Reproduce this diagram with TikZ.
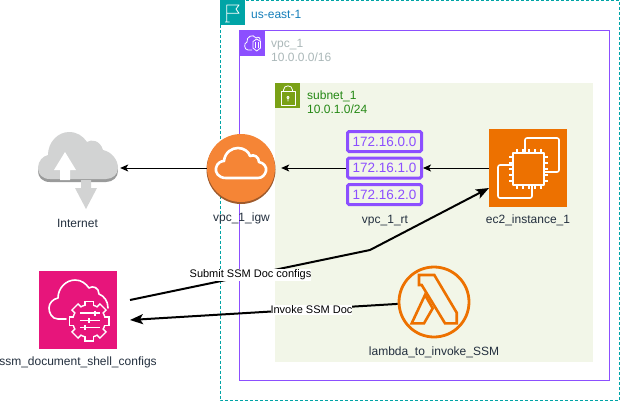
\documentclass[tikz,border=0pt]{standalone}
\usepackage{fontspec}
\setmainfont{Liberation Sans}
\usetikzlibrary{arrows.meta}
\definecolor{regionc}{HTML}{00A4A6}
\definecolor{vpcc}{HTML}{8C4FFF}
\definecolor{subnetbg}{HTML}{F2F6E8}
\definecolor{subnetc}{HTML}{7AA116}
\definecolor{subnettxt}{HTML}{248814}
\definecolor{vpctxt}{HTML}{AAB7B8}
\definecolor{regiontxt}{HTML}{147EBA}
\definecolor{ec2c}{HTML}{ED7100}
\definecolor{ssmc}{HTML}{E7157B}
\definecolor{igwc}{HTML}{F58536}
\definecolor{igwdark}{HTML}{9E5A2C}
\definecolor{cloudc}{HTML}{D2D3D3}
\definecolor{clouddark}{HTML}{9A9B9B}
\definecolor{labelc}{HTML}{232F3E}
\begin{document}
\begin{tikzpicture}
    [%%%%%%%%%%%%%%%%%%%%%%%%%%%%%%
        x=1pt,y=-1pt,
        base/.style={font=\fontsize{12}{14}\selectfont},
        caption/.style={base,text=labelc},
        title/.style={base,anchor=west,align=left,inner sep=0pt},
        iconsq/.style={rectangle,draw=none,minimum size=25pt,inner sep=0pt,anchor=north west},
        rtrow/.style={rectangle,rounded corners=1.5pt,draw=vpcc,line width=3pt,fill=subnetbg,
            minimum width=74pt,minimum height=20pt,inner sep=0pt,text=vpcc,font=\fontsize{13.5}{15}\selectfont},
        thin line/.style={draw=white,line width=0.8pt,line join=round},
        glyph/.style={draw=white,line width=1.6pt,line join=round,line cap=round},
        flow/.style={draw=black,line width=1pt,-{Stealth[length=8pt,width=7pt,inset=2pt]}},
        heavy/.style={draw=black,line width=2pt,line join=round,-{Stealth[length=13pt,width=10pt,inset=3pt]}},
        edgelabel/.style={base,fill=white,inner xsep=0pt,inner ysep=0.5pt,text=black,font=\fontsize{11}{13}\selectfont},
    ]%%%%%%%%%%%%%%%%%%%%%%%%%%%%%%
\useasboundingbox (0,0) rectangle (620,401);
% containers
\draw[regionc,dashed,dash pattern=on 3pt off 2pt,line width=1pt] (220,0.5) rectangle (619.5,400.5);
\draw[vpcc,line width=1pt] (239.5,30.5) rectangle (609.5,380.5);
\fill[subnetbg] (275,83) rectangle (593,362);
\node[iconsq,fill=regionc] (regionicon) at (220,0) {};
\node[iconsq,fill=vpcc] (vpcicon) at (240,31) {};
\node[iconsq,fill=subnetc] (subneticon) at (275,83) {};
% flag
\draw[thin line] (225,22) -- (229.5,22) (226.7,22) -- (226.7,5) -- (239,5) -- (236,9) -- (239,13.3) -- (226.7,13.3);
% vpc cloud and shield
\draw[thin line] (252,50) -- (248,50) .. controls (244,50) and (243.5,43) .. (247,42) .. controls (246,37) and (253,33) .. (256,38) .. controls (258,36) and (261,38) .. (260,41);
\draw[thin line] (256.7,39) -- (260.5,41.5) -- (260.5,48) -- (256.7,51) -- (253,48) -- (253,41.5) -- cycle;
\draw[thin line] (255.2,42) -- (255.2,48) (258.2,42) -- (258.2,48);
% lock
\draw[thin line] (281,91.5) rectangle (295,105);
\draw[thin line] (283.5,91.5) -- (283.5,90) .. controls (283.5,84.5) and (292.5,84.5) .. (292.5,90) -- (292.5,91.5);
\draw[thin line] (288,97.5) circle (1.2pt) (288,98.7) -- (288,101.5);
% titles
\node[title,text=regiontxt] (regiontitle) at (251,14) {us-east-1};
\node[title,text=vpctxt] (vpctitle) at (271,50.5) {vpc\_1\\10.0.0.0/16};
\node[title,text=subnettxt] (subnettitle) at (307,102) {subnet\_1\\10.0.1.0/24};
% internet
\fill[clouddark,yshift=-3pt] (50,179) .. controls (42,179) and (38,174) .. (38,168) .. controls (38,161) and (43,156) .. (48,155) .. controls (48,142) and (58,132) .. (69,132) .. controls (77,132) and (83,136) .. (87,142) .. controls (91,139) and (100,140) .. (103,150) .. controls (112,152) and (118,160) .. (118,168) .. controls (118,174) and (113,179) .. (106,179) -- cycle;
\fill[cloudc] (50,179) .. controls (42,179) and (38,174) .. (38,168) .. controls (38,161) and (43,156) .. (48,155) .. controls (48,142) and (58,132) .. (69,132) .. controls (77,132) and (83,136) .. (87,142) .. controls (91,139) and (100,140) .. (103,150) .. controls (112,152) and (118,160) .. (118,168) .. controls (118,174) and (113,179) .. (106,179) -- cycle;
\fill[white] (65,152) -- (76,170) -- (70,170) -- (70,180) -- (60,180) -- (60,170) -- (54,170) -- cycle;
\fill[cloudc] (81,180) -- (91,180) -- (91,188) -- (97,188) -- (86,209) -- (75,188) -- (81,188) -- cycle;
\node[minimum width=84pt,minimum height=78pt,inner sep=0pt] (internet) at (78,168) {};
\node[caption] (internetlabel) at (77.5,223) {Internet};
% gateway
\fill[igwdark] (241,169.5) circle (34.5pt);
\node[circle,fill=igwc,minimum size=68pt,inner sep=0pt] (igw) at (241,168) {};
\draw[white,line width=2.6pt,line join=round] (226,178) .. controls (218,178) and (215,172) .. (216,168) .. controls (217,163) and (221,161) .. (224,161) .. controls (225,152) and (232,148) .. (238,148) .. controls (244,148) and (249,152) .. (250,156) .. controls (254,154) and (259,157) .. (259,162) .. controls (264,163) and (267,167) .. (266,171) .. controls (265,175) and (262,178) .. (258,178) -- cycle;
\node[caption] (igwlabel) at (241.5,218) {vpc\_1\_igw};
% route table
\node[rtrow] (rtrow1) at (384.5,141.5) {172.16.0.0};
\node[rtrow] (rtrow2) at (384.5,168) {172.16.1.0};
\node[rtrow] (rtrow3) at (384.5,194.5) {172.16.2.0};
\node[caption] (rtlabel) at (385,220.5) {vpc\_1\_rt};
% ec2
\node[rectangle,fill=ec2c,minimum size=78pt,inner sep=0pt] (ec2) at (528,168) {};
\draw[glyph,rounded corners=2pt] (525,152) -- (525,138) -- (559,138) -- (559,172) -- (545,172);
\draw[glyph,rounded corners=2pt] (513,165) -- (498,165) -- (498,198) -- (532,198) -- (532,185);
\draw[glyph] (513,153) rectangle (544,185);
\foreach \p in {517,523,529,535,541} {
    \draw[white,line width=1.3pt] (\p,149) -- (\p,153) (\p,185) -- (\p,189);
}
\foreach \p in {157,163,169,175,181} {
    \draw[white,line width=1.3pt] (509,\p) -- (513,\p) (544,\p) -- (548,\p);
}
\node[caption] (ec2label) at (528,220.5) {ec2\_instance\_1};
% lambda
\node[circle,draw=ec2c,line width=2.8pt,minimum size=70pt,inner sep=0pt] (lambda) at (434,302) {};
\draw[ec2c,line width=2.6pt,line join=miter] (419,275) -- (434.3,275) -- (456.7,312.7) -- (456.7,323.3) -- (445,323.3) -- (421.7,285) -- (419,285) -- cycle;
\draw[ec2c,line width=2.6pt,line join=miter] (425,295) -- (432.7,308.3) -- (424,323.3) -- (411.7,323.3) -- cycle;
\node[caption] (lambdalabel) at (434,352.5) {lambda\_to\_invoke\_SSM};
% ssm document
\node[rectangle,fill=ssmc,minimum size=78pt,inner sep=0pt] (ssm) at (78,309.5) {};
\draw[glyph] (66,319) -- (58,319) .. controls (52,319) and (49,313) .. (49,308) .. controls (49,303) and (53,299) .. (58,298) .. controls (58,288) and (66,280) .. (75,280) .. controls (82,280) and (86,284) .. (89,288) .. controls (93,285) and (99,288) .. (99,294) .. controls (104,296) and (108,301) .. (108,308);
\foreach \a in {0,45,...,315} {
    \draw[white,fill=white,line width=3pt,rotate around={\a:(89,321)}] (85.5,302) rectangle (92.5,308);
}
\draw[white,fill=white,line width=3pt] (89,321) circle (15.5pt);
\foreach \a in {0,45,...,315} {
    \fill[ssmc,rotate around={\a:(89,321)}] (85.5,302) rectangle (92.5,308);
}
\fill[ssmc] (89,321) circle (15.5pt);
\draw[white,line width=1.4pt] (80,313) -- (100,313) (80,320.5) -- (100,320.5) (80,327.5) -- (100,327.5);
\draw[white,line width=2pt] (95,310.5) -- (95,315.5) (89,318) -- (89,323) (85,325) -- (85,330);
\node[caption] (ssmlabel) at (78,362) {ssm\_document\_shell\_configs};
% connectors
\coordinate (submitstart) at (130,300);
\coordinate (submitbend) at (370,250);
\coordinate (ec2in) at (489,188);
\coordinate (invokeend) at (130,320);
\draw[flow] (ec2) -- (rtrow2);
\draw[flow,shorten >=6pt] (rtrow2) -- (igw);
\draw[flow] (igw) -- (internet);
\draw[heavy] (submitstart) -- (submitbend) -- (ec2in);
\draw[heavy] (lambda.183) -- (invokeend);
\node[edgelabel] (submitlabel) at (250.5,275) {Submit SSM Doc configs};
\node[edgelabel] (invokelabel) at (311.5,310) {Invoke SSM Doc};
\end{tikzpicture}
\end{document}
